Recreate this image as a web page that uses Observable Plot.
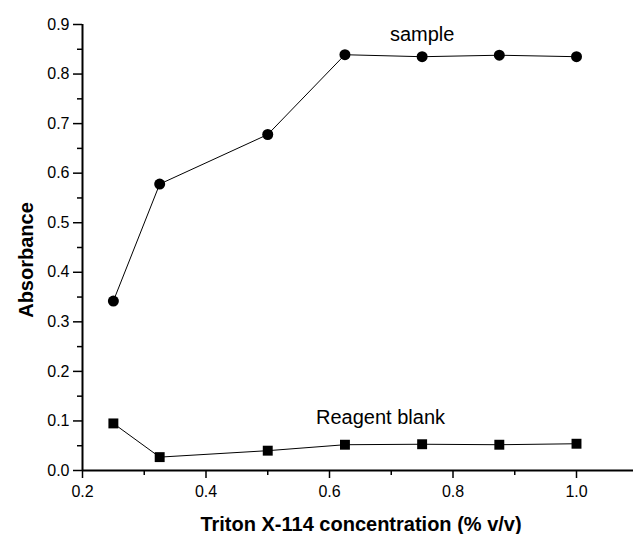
<!DOCTYPE html>
<html>
<head>
<meta charset="utf-8">
<script src="https://cdn.jsdelivr.net/npm/d3@7"></script>
<script src="https://cdn.jsdelivr.net/npm/@observablehq/plot@0.6"></script>
<style>
  html, body { margin: 0; padding: 0; background: #fff; }
  #chart svg { display: block; }
</style>
</head>
<body>
<div id="chart"></div>
<script>
// Data
const concentration = [0.25, 0.325, 0.5, 0.625, 0.75, 0.875, 1.0];
const sampleAbs = [0.342, 0.578, 0.678, 0.839, 0.835, 0.838, 0.835];
const blankAbs = [0.095, 0.027, 0.040, 0.052, 0.053, 0.052, 0.054];
const seriesNames = ["sample", "Reagent blank"];
const xTicks = [0.2, 0.4, 0.6, 0.8, 1.0];
const xMinorTicks = [0.3, 0.5, 0.7, 0.9];
const yTicks = [0.0, 0.1, 0.2, 0.3, 0.4, 0.5, 0.6, 0.7, 0.8, 0.9];
const yMinorTicks = [0.05, 0.15, 0.25, 0.35, 0.45, 0.55, 0.65, 0.75, 0.85];
const xLabel = "Triton X-114 concentration (% v/v)";
const yLabel = "Absorbance";

const sample = concentration.map((x, i) => ({x, y: sampleAbs[i]}));
const blank = concentration.map((x, i) => ({x, y: blankAbs[i]}));

const W = 633, H = 534;
const mL = 82, mR = 0, mT = 24, mB = 64;
// x domain: the axis continues off the right edge of the picture
const pxPerUnit = 617.5;
const xMax = 0.2 + (W - mL - mR) / pxPerUnit;

const font = "'Liberation Sans', Arial, Helvetica, sans-serif";

const chart = Plot.plot({
  width: W,
  height: H,
  marginLeft: mL,
  marginRight: mR,
  marginTop: mT,
  marginBottom: mB,
  style: {fontFamily: font, fontSize: "16px", color: "#000", background: "#fff", overflow: "visible"},
  x: {domain: [0.2, xMax]},
  y: {domain: [0, 0.9]},
  marks: [
    // axes
    Plot.axisX(xTicks, {tickSize: 8, tickPadding: 7, tickFormat: d3.format(".1f"), fontSize: 16, strokeWidth: 1.5, label: null}),
    Plot.axisX(xMinorTicks, {tickSize: 5, strokeWidth: 1.5, text: null, label: null}),
    Plot.axisY(yTicks, {tickSize: 9, tickPadding: 4, tickFormat: d3.format(".1f"), fontSize: 16, strokeWidth: 1.5, label: null}),
    Plot.axisY(yMinorTicks, {tickSize: 5, strokeWidth: 1.5, text: null, label: null}),
    Plot.ruleY([0], {strokeWidth: 2}),
    Plot.ruleX([0.2], {y1: 0, y2: 0.9, strokeWidth: 2}),
    // series
    Plot.line(sample, {x: "x", y: "y", stroke: "#000", strokeWidth: 1}),
    Plot.dot(sample, {x: "x", y: "y", r: 5.5, fill: "#000", stroke: "none"}),
    Plot.line(blank, {x: "x", y: "y", stroke: "#000", strokeWidth: 1}),
    Plot.dot(blank, {x: "x", y: "y", symbol: "square", r: 5.6, fill: "#000", stroke: "none"}),
    // series labels, anchored to data points
    Plot.text([sample[4]], {x: "x", y: "y", text: () => seriesNames[0], dy: -22, fontSize: 20, fill: "#000"}),
    Plot.text([{x: (blank[3].x + blank[4].x) / 2, y: blank[4].y}], {x: "x", y: "y", text: () => seriesNames[1], dx: -3, dy: -27, fontSize: 20, fill: "#000"})
  ]
});

// axis titles as real text in the svg
const svg = d3.select(chart);
svg.append("text")
  .attr("x", 361).attr("y", 531)
  .attr("text-anchor", "middle")
  .attr("font-family", font).attr("font-weight", "bold").attr("font-size", 20)
  .text(xLabel);
svg.append("text")
  .attr("transform", "translate(33,260) rotate(-90)")
  .attr("text-anchor", "middle")
  .attr("font-family", font).attr("font-weight", "bold").attr("font-size", 20)
  .text(yLabel);

document.getElementById("chart").appendChild(chart);
</script>
</body>
</html>
